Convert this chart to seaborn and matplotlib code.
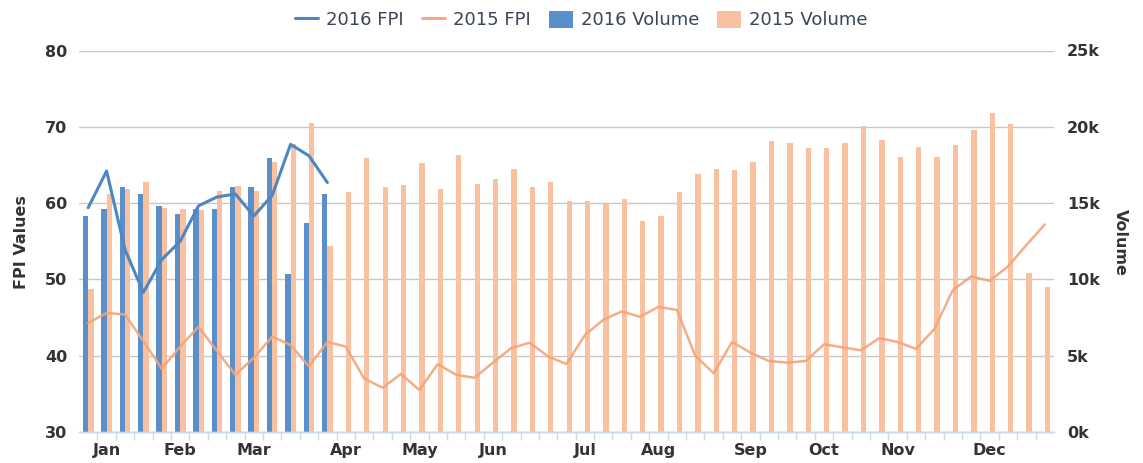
import matplotlib
matplotlib.use("Agg")
import matplotlib.pyplot as plt
from matplotlib.lines import Line2D
from matplotlib.patches import Patch
from matplotlib.ticker import FuncFormatter, FixedLocator
import numpy as np
import pandas as pd
import seaborn as sns


# weekly values, 2015 has 53 weeks, 2016 only the first 14
vol_2015 = [9.38, 15.6, 15.9, 16.4, 14.7, 14.6, 14.57, 15.8, 16.15, 15.8,
            17.7, 18.9, 20.25, 12.16, 15.7, 17.96, 16.05, 16.16, 17.6, 15.93,
            18.15, 16.25, 16.58, 17.26, 16.03, 16.36, 15.16, 15.16, 14.94, 15.27,
            13.8, 14.15, 15.7, 16.93, 17.26, 17.15, 17.7, 19.05, 18.94, 18.6,
            18.6, 18.94, 20.03, 19.16, 18.03, 18.7, 18.03, 18.81, 19.82, 20.93,
            20.17, 10.39, 9.5]
vol_2016 = [14.17, 14.6, 16.05, 15.6, 14.83, 14.3, 14.6, 14.6, 16.05, 16.05,
            17.96, 10.37, 13.7, 15.6]
fpi_2015 = [44.3, 45.6, 45.4, 41.9, 38.3, 41.2, 43.8, 40.6, 37.5, 39.7,
            42.5, 41.4, 38.6, 41.8, 41.2, 37.0, 35.8, 37.6, 35.5, 38.9,
            37.5, 37.1, 39.1, 41.0, 41.7, 39.9, 38.9, 42.7, 44.7, 45.8,
            45.1, 46.4, 46.0, 40.0, 37.7, 41.8, 40.4, 39.3, 39.1, 39.3,
            41.5, 41.1, 40.7, 42.3, 41.8, 40.9, 43.5, 48.6, 50.4, 49.8,
            51.7, 54.5, 57.2]
fpi_2016 = [59.4, 64.2, 53.9, 48.3, 52.6, 55.0, 59.65, 60.8, 61.2, 58.3,
            61.0, 67.7, 66.2, 62.7]

month_labels = ["Jan", "Feb", "Mar", "Apr", "May", "Jun",
                "Jul", "Aug", "Sep", "Oct", "Nov", "Dec"]
month_weeks = [1, 5, 9, 14, 18, 22, 27, 31, 36, 40, 44, 49]

BLUE_BAR = "#5b8fca"
ORANGE_BAR = "#f9c1a0"
BLUE_LINE = "#4d87c2"
ORANGE_LINE = "#f4a478"
TEXT = "#333333"

vol_df = pd.concat([
    pd.DataFrame({"week": np.arange(len(vol_2016)), "volume": np.array(vol_2016) * 1000, "series": "2016 Volume"}),
    pd.DataFrame({"week": np.arange(len(vol_2015)), "volume": np.array(vol_2015) * 1000, "series": "2015 Volume"}),
], ignore_index=True)
fpi_df = pd.concat([
    pd.DataFrame({"week": np.arange(len(fpi_2016)), "fpi": fpi_2016, "series": "2016 FPI"}),
    pd.DataFrame({"week": np.arange(len(fpi_2015)), "fpi": fpi_2015, "series": "2015 FPI"}),
], ignore_index=True)

sns.set_style("white")
plt.rcParams["font.family"] = ["DejaVu Sans"]

fig = plt.figure(figsize=(11.43, 4.63), dpi=100)
ax = fig.add_axes([79 / 1143, 1 - 432 / 463, 975 / 1143, (432 - 50.5) / 463])
ax2 = ax.twinx()

sns.barplot(
    data=vol_df, x="week", y="volume", hue="series",
    hue_order=["2016 Volume", "2015 Volume"],
    palette={"2016 Volume": BLUE_BAR, "2015 Volume": ORANGE_BAR},
    native_scale=True, dodge=True, width=0.58, saturation=1,
    errorbar=None, linewidth=0, legend=False, ax=ax2,
)
sns.lineplot(
    data=fpi_df, x="week", y="fpi", hue="series",
    palette={"2016 FPI": BLUE_LINE, "2015 FPI": ORANGE_LINE},
    linewidth=2.0, legend=False, ax=ax,
)
for line in ax.lines:
    if line.get_color() == ORANGE_LINE:
        line.set_linewidth(1.8)
        line.set_alpha(0.9)
    else:
        line.set_linewidth(2.2)

# lines above bars
ax.set_zorder(ax2.get_zorder() + 1)
ax.patch.set_visible(False)

ax.set_xlim(-0.5, 52.5)
ax.set_ylim(30, 80)
ax.set_yticks(np.arange(30, 81, 10))
ax2.set_ylim(0, 25000)
ax2.set_yticks(np.arange(0, 25001, 5000))
ax2.yaxis.set_major_formatter(FuncFormatter(lambda v, p: f"{v / 1000:.0f}k"))

ax.xaxis.set_major_locator(FixedLocator(month_weeks))
ax.set_xticklabels(month_labels)
ax.xaxis.set_minor_locator(FixedLocator(np.arange(0.5, 52.5, 1.0)))
ax.tick_params(axis="x", which="major", bottom=True, length=0, pad=8, labelsize=11.5, labelcolor=TEXT)
ax.tick_params(axis="x", which="minor", bottom=True, length=6, width=1, color="#ccd6eb")
for lab in ax.get_xticklabels():
    lab.set_fontweight("bold")

ax.tick_params(axis="y", length=0, pad=8.5, labelsize=11.5, labelcolor=TEXT)
ax2.tick_params(axis="y", length=0, pad=9.5, labelsize=11.5, labelcolor=TEXT)
for lab in ax.get_yticklabels() + ax2.get_yticklabels():
    lab.set_fontweight("bold")

ax.grid(False)
ax2.grid(False)
ax2.yaxis.grid(True, color="#c8c8c8", linewidth=1)
ax2.set_axisbelow(True)

for a in (ax, ax2):
    for side in ("top", "left", "right"):
        a.spines[side].set_visible(False)
    a.spines["bottom"].set_color("#ccd6eb")
    a.spines["bottom"].set_linewidth(1)
    a.set_xlabel("")
    a.set_ylabel("")

fig.text(22 / 1143, 1 - 242 / 463, "FPI Values", rotation=90, ha="center", va="center",
         fontsize=11.5, fontweight="bold", color=TEXT)
fig.text(1120 / 1143, 1 - 242 / 463, "Volume", rotation=-90, ha="center", va="center",
         fontsize=11.5, fontweight="bold", color=TEXT)

handles = [
    Line2D([0], [0], color=BLUE_LINE, linewidth=2.2),
    Line2D([0], [0], color=ORANGE_LINE, linewidth=2),
    Patch(facecolor=BLUE_BAR, edgecolor="none"),
    Patch(facecolor=ORANGE_BAR, edgecolor="none"),
]
labels = ["2016 FPI", "2015 FPI", "2016 Volume", "2015 Volume"]
fig.legend(handles, labels, loc="center", bbox_to_anchor=(581 / 1143, 1 - 20 / 463), ncol=4,
           frameon=False, fontsize=13, handlelength=1.3, handleheight=1.1,
           handletextpad=0.45, columnspacing=1.0, labelcolor="#3a4556")

fig.savefig("out.png", dpi=100)
